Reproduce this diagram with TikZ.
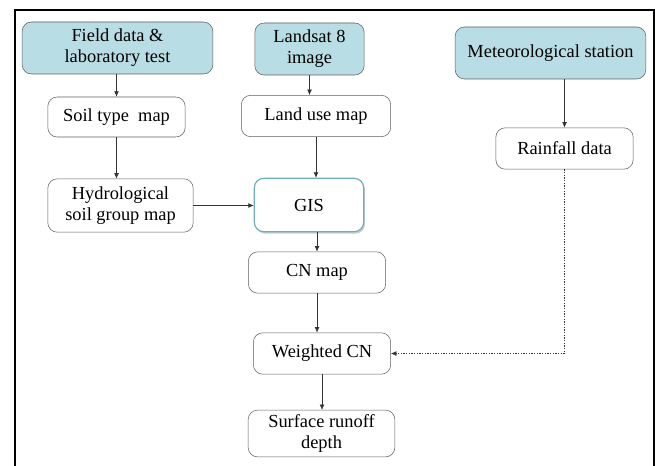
\documentclass[tikz,border=0pt]{standalone}
\usepackage{fontspec}
\setmainfont{Liberation Serif}
\usetikzlibrary{arrows.meta,shadows}

\definecolor{srcfill}{RGB}{184,221,228}
\definecolor{boxline}{RGB}{95,95,95}
\definecolor{gisline}{RGB}{110,175,188}

\tikzset{
    box/.style={draw=boxline, fill=white, rounded corners=7pt, align=center,
        inner sep=2pt, font=\fontsize{13.8}{15.8}\selectfont},
    srcbox/.style={box, fill=srcfill},
    gisbox/.style={box, draw=gisline, line width=0.9pt,
        drop shadow={shadow xshift=1pt, shadow yshift=-1.5pt, opacity=0.4, fill=gray}},
    flow/.style={-{Latex[length=4pt,width=3.5pt]}, black!80, thin}
}

\begin{document}
\begin{tikzpicture}[x=0.75pt,y=-0.75pt]
    \useasboundingbox (0,0) rectangle (655,466);
    %\draw[very thin,color=gray] (0,0) grid[step=50] (655,466);
    \draw[line width=1.5pt] (15,466) -- (15,10) -- (654,10) -- (654,466);

    % sources
    \node[srcbox, minimum width=143pt, minimum height=39pt] (field) at (117.5,48) {Field data \&\\laboratory test};
    \node[srcbox, minimum width=82pt, minimum height=39pt] (landsat) at (309.5,49) {Landsat 8\\image};
    \node[srcbox, minimum width=143pt, minimum height=39pt] (meteo) at (550.5,53) {Meteorological station};

    % maps
    \node[box, minimum width=103pt, minimum height=30pt] (soil) at (116.5,117) {Soil type\ \ map};
    \node[box, minimum width=112pt, minimum height=31pt] (landuse) at (316,116) {Land use map};
    \node[box, minimum width=103pt, minimum height=31pt] (rain) at (564.5,148.5) {Rainfall data};
    \node[box, minimum width=109pt, minimum height=40pt] (hydro) at (120.5,205.5) {Hydrological\\soil group map};
    \node[gisbox, minimum width=82pt, minimum height=40pt] (gis) at (309,205) {GIS};
    \node[box, minimum width=103pt, minimum height=31pt] (cnmap) at (317,272.5) {CN map};
    \node[box, minimum width=103pt, minimum height=31pt] (weighted) at (322,353.5) {Weighted CN};
    \node[box, minimum width=110pt, minimum height=35pt] (runoff) at (321.5,433.5) {Surface runoff\\depth};

    % arrows
    \draw[flow] (field.south -| soil.south) -- (soil.north);
    \draw[flow] (soil.south) -- (hydro.north -| soil.south);
    \draw[flow] (landsat.south) -- (landuse.north -| landsat.south);
    \draw[flow] (landuse.south) -- (gis.north -| landuse.south);
    \draw[flow] (hydro.east) -- (gis.west |- hydro.east);
    \draw[flow] (gis.south -| cnmap.south) -- (cnmap.north);
    \draw[flow] (cnmap.south) -- (weighted.north -| cnmap.south);
    \draw[flow] (weighted.south) -- (runoff.north -| weighted.south);
    \draw[flow] (meteo.south -| rain.north) -- (rain.north);
    \coordinate (bend) at (rain.south |- weighted.east);
    \draw[flow, dash pattern=on 1pt off 1pt] (rain.south) -- (bend) -- (weighted.east);

\end{tikzpicture}
\end{document}
